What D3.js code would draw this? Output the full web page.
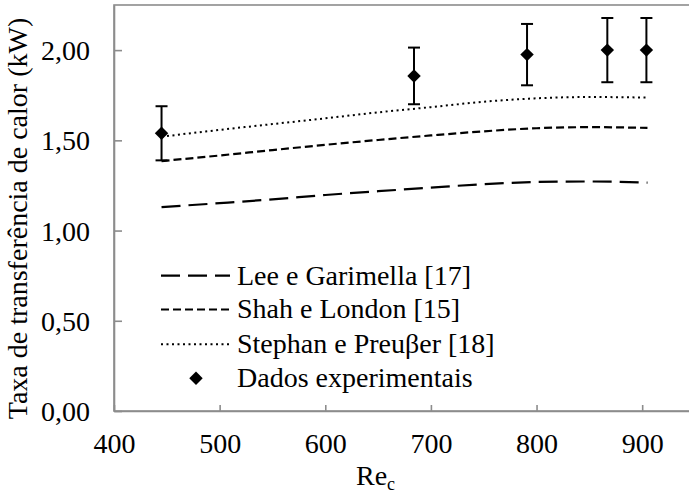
<!DOCTYPE html>
<html>
<head>
<meta charset="utf-8">
<script src="https://cdn.jsdelivr.net/npm/d3@7"></script>
<style>
  html, body { margin: 0; padding: 0; background: #fff; }
  svg { display: block; }
</style>
</head>
<body>
<svg id="chart" width="689" height="495"></svg>
<script>
// Reynolds numbers of the correlation curves
const reCurve = [445, 500, 550, 600, 650, 700, 750, 800, 850, 905];
// Heat transfer rate predicted by each correlation (kW)
const leeGarimella = [1.130, 1.152, 1.173, 1.197, 1.218, 1.238, 1.257, 1.269, 1.272, 1.266];
const shahLondon   = [1.385, 1.416, 1.446, 1.475, 1.502, 1.527, 1.550, 1.567, 1.573, 1.569];
const stephanPreusser = [1.520, 1.558, 1.590, 1.622, 1.655, 1.684, 1.714, 1.733, 1.740, 1.737];
// Experimental data with uncertainty
const reExp = [445, 684, 791, 867, 904];
const qExp = [1.539, 1.857, 1.975, 2.000, 2.000];
const qErr = [0.150, 0.157, 0.170, 0.178, 0.178];
// Axis ticks
const xTicks = [400, 500, 600, 700, 800, 900];
const yTicks = [0, 0.5, 1.0, 1.5, 2.0];
const seriesNames = ["Lee e Garimella [17]", "Shah e London [15]", "Stephan e Preuβer [18]", "Dados experimentais"];

const FONT = "Liberation Serif";
const svg = d3.select("#chart").attr("font-family", FONT);
const plotL = 114, plotT = 5, plotB = 411, plotR = 695;
const x = d3.scaleLinear().domain([400, 950]).range([plotL, plotR]);
const y = d3.scaleLinear().domain([0, 2.25]).range([plotB, plotT]);
const axisColor = "#8c8c8c";
const fmt = v => d3.format(".2f")(v).replace(".", ",");

// frame
svg.append("rect").attr("x", plotL).attr("y", plotT)
  .attr("width", plotR - plotL).attr("height", plotB - plotT)
  .attr("fill", "none").attr("stroke", axisColor).attr("stroke-width", 1.6);

// axes with inward ticks
const xAxis = svg.append("g").attr("transform", `translate(0,${plotB})`)
  .call(d3.axisBottom(x).tickValues(xTicks).tickSizeInner(-6).tickSizeOuter(0).tickPadding(22));
const yAxis = svg.append("g").attr("transform", `translate(${plotL},0)`)
  .call(d3.axisLeft(y).tickValues(yTicks).tickFormat(fmt).tickSizeInner(-8).tickSizeOuter(0).tickPadding(24));
[xAxis, yAxis].forEach(g => {
  g.attr("font-family", FONT).attr("font-size", 28);
  g.select(".domain").attr("stroke", axisColor).attr("stroke-width", 1.6);
  g.selectAll(".tick line").attr("stroke", axisColor).attr("stroke-width", 1.6);
  g.selectAll(".tick text").attr("fill", "#000");
});
yAxis.selectAll(".tick text").attr("dy", "0.34em");

// correlation curves
const line = d3.line().x(d => x(d[0])).y(d => y(d[1])).curve(d3.curveMonotoneX);
const styles = [
  { data: leeGarimella, dash: "19,8", width: 2.2 },
  { data: shahLondon, dash: "8,4", width: 2.2 },
  { data: stephanPreusser, dash: "2,3.5", width: 2.0 }
];
styles.forEach(s => {
  svg.append("path").datum(reCurve.map((r, i) => [r, s.data[i]]))
    .attr("d", line).attr("fill", "none").attr("stroke", "#000")
    .attr("stroke-width", s.width).attr("stroke-dasharray", s.dash);
});

// error bars and diamonds
const diamond = d3.symbol().type(d3.symbolDiamond2).size(115);
reExp.forEach((r, i) => {
  const cx = x(r);
  const g = svg.append("g");
  g.append("line").attr("x1", cx).attr("x2", cx)
    .attr("y1", y(qExp[i] + qErr[i])).attr("y2", y(qExp[i] - qErr[i]))
    .attr("stroke", "#000").attr("stroke-width", 2);
  [qExp[i] + qErr[i], qExp[i] - qErr[i]].forEach(v => {
    g.append("line").attr("x1", cx - 6).attr("x2", cx + 6)
      .attr("y1", y(v)).attr("y2", y(v)).attr("stroke", "#000").attr("stroke-width", 2);
  });
  g.append("path").attr("d", diamond).attr("transform", `translate(${cx},${y(qExp[i])})`).attr("fill", "#000");
});

// legend
const legY = [275.7, 309.5, 344.2, 378.3];
const legend = svg.append("g");
styles.forEach((s, i) => {
  legend.append("line").attr("x1", 161).attr("x2", 230).attr("y1", legY[i]).attr("y2", legY[i])
    .attr("stroke", "#000").attr("stroke-width", s.width).attr("stroke-dasharray", s.dash);
});
legend.append("path").attr("d", diamond).attr("transform", `translate(196,${legY[3]})`).attr("fill", "#000");
seriesNames.forEach((n, i) => {
  legend.append("text").attr("x", 237).attr("y", legY[i]).attr("dy", "0.32em")
    .attr("font-family", FONT).attr("font-size", 28).attr("fill", "#000").text(n);
});

// axis titles
const xt = svg.append("text").attr("x", 356).attr("y", 485)
  .attr("font-family", FONT).attr("font-size", 28).attr("fill", "#000");
xt.append("tspan").text("Re");
xt.append("tspan").attr("font-size", 18).attr("dy", 5).text("c");
svg.append("text").attr("transform", "translate(27,218.5) rotate(-90)")
  .attr("text-anchor", "middle").attr("font-family", FONT).attr("font-size", 28).attr("fill", "#000")
  .text("Taxa de transferência de calor (kW)");
</script>
</body>
</html>
